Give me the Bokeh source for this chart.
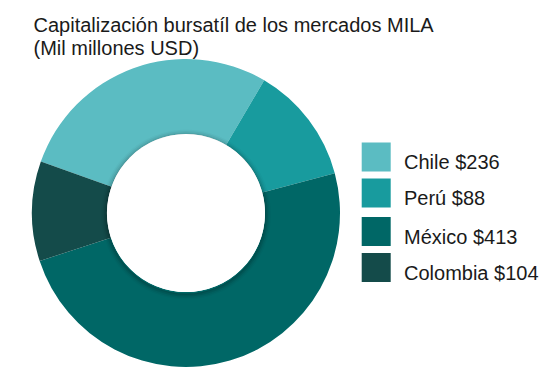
import math
from bokeh.plotting import figure
from bokeh.models import Range1d
from bokeh.core.properties import value
from bokeh.embed import file_html
from bokeh.resources import INLINE

# Data
categories = ["Chile", "Perú", "México", "Colombia"]
label_values = [236, 88, 413, 104]           # values shown in the legend
slice_values = [236, 104, 413, 88]           # slice sizes as drawn in the reference
colors = ["#5BBCC2", "#189B9E", "#006766", "#144B4A"]
title_lines = ["Capitalización bursatíl de los mercados MILA", "(Mil millones USD)"]

W, H = 550, 377
p = figure(width=W, height=H, output_backend="svg", toolbar_location=None,
           x_range=Range1d(0, W), y_range=Range1d(0, H), min_border=0)
p.axis.visible = False
p.grid.visible = False
p.outline_line_color = None
p.background_fill_color = "white"
p.border_fill_color = "white"

cx, cy = 185.5, H - 212.5
R_out, R_in = 154, 79
start = math.radians(160.5)
total = sum(slice_values)
starts, ends = [], []
a = start
for v in slice_values:
    b = a - 2 * math.pi * v / total
    starts.append(b)
    ends.append(a)
    a = b

p.annular_wedge(x=[cx] * 4, y=[cy] * 4, inner_radius=R_in, outer_radius=R_out,
                inner_radius_units="screen", outer_radius_units="screen",
                start_angle=starts, end_angle=ends, color=colors, line_color=None)

# subtle inner shadow
for i, al in enumerate([0.10, 0.07, 0.045, 0.025]):
    p.annulus(x=[cx], y=[cy - 1.5], inner_radius=R_in, outer_radius=R_in + 1.5 + i * 1.5,
              inner_radius_units="screen", outer_radius_units="screen",
              fill_color="black", fill_alpha=al, line_color=None)
p.circle(x=[cx], y=[cy], radius=R_in, radius_units="screen", fill_color="white", line_color=None)

# Title
p.text(x=[33, 33], y=[H - 24.5, H - 47], text=title_lines, text_font=value("Liberation Sans"),
       text_font_size="20px", text_color="#1a1a1a", text_baseline="alphabetic", text_align="left")

# Legend
ys = [156.5, 192.5, 231, 267]
p.rect(x=[375.7] * 4, y=[H - y for y in ys], width=29, height=29, width_units="screen",
       height_units="screen", fill_color=colors, line_color=None)
labels = [f"{c} ${v}" for c, v in zip(categories, label_values)]
p.text(x=[403.5] * 4, y=[H - y - 5.2 for y in ys], text=labels, text_font=value("Liberation Sans"),
       text_font_size="20px", text_color="#1a1a1a", text_baseline="alphabetic", text_align="left")

open("out.html", "w").write(file_html(p, INLINE))
